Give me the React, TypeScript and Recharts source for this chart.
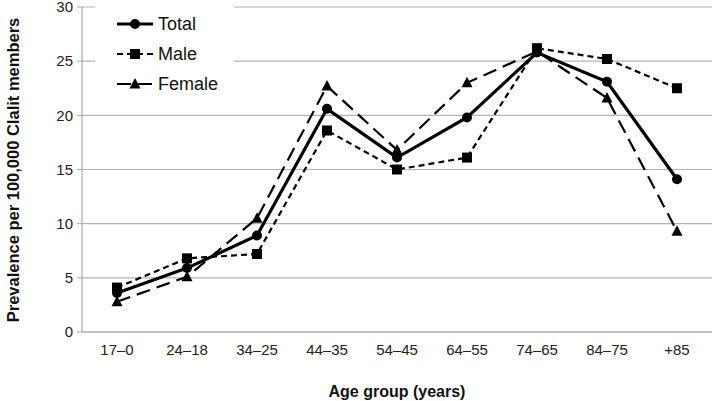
import React from 'react';
import { CartesianGrid, Label, Legend, Line, LineChart, XAxis, YAxis } from 'recharts';

const ageGroups = ['17–0', '24–18', '34–25', '44–35', '54–45', '64–55', '74–65', '84–75', '+85'];
const totalValues = [3.6, 5.9, 8.9, 20.6, 16.1, 19.8, 25.8, 23.1, 14.1];
const maleValues = [4.1, 6.8, 7.2, 18.6, 15.0, 16.1, 26.2, 25.2, 22.5];
const femaleValues = [2.8, 5.1, 10.5, 22.7, 16.8, 23.0, 25.9, 21.6, 9.3];
const yTicks = [0, 5, 10, 15, 20, 25, 30];

const data = ageGroups.map((age, i) => ({
  age,
  Total: totalValues[i],
  Male: maleValues[i],
  Female: femaleValues[i],
}));

const FONT = 'Liberation Sans, Arial, sans-serif';

const SquareDot = (props: any) => {
  const { cx, cy } = props;
  if (cx == null || cy == null) return null;
  return <rect x={cx - 5} y={cy - 5} width={10} height={10} fill='#000' />;
};

const TriangleDot = (props: any) => {
  const { cx, cy } = props;
  if (cx == null || cy == null) return null;
  return <polygon points={`${cx},${cy - 6} ${cx + 5.5},${cy + 4.5} ${cx - 5.5},${cy + 4.5}`} fill='#000' />;
};

const legendRows = [
  { name: 'Total', dash: undefined, width: 3, marker: 'circle' },
  { name: 'Male', dash: '6 4', width: 2.2, marker: 'square' },
  { name: 'Female', dash: '14 7', width: 2.2, marker: 'triangle' },
];

function ChartLegend() {
  return (
    <div style={{ background: '#fff', padding: '4px 16px 4px 22px', fontFamily: FONT }}>
      {legendRows.map((row) => (
        <div key={row.name} style={{ display: 'flex', alignItems: 'center', height: 30 }}>
          <svg width={40} height={14}>
            <line x1={0} y1={7} x2={36} y2={7} stroke='#000' strokeWidth={row.width} strokeDasharray={row.dash} />
            {row.marker === 'circle' && <circle cx={18} cy={7} r={5} fill='#000' />}
            {row.marker === 'square' && <rect x={13} y={2} width={10} height={10} fill='#000' />}
            {row.marker === 'triangle' && <polygon points='18,1 23.5,11.5 12.5,11.5' fill='#000' />}
          </svg>
          <span style={{ fontSize: 18, color: '#111', marginLeft: 1 }}>{row.name}</span>
        </div>
      ))}
    </div>
  );
}

export default function App() {
  return (
    <div style={{ position: 'absolute', left: 0, top: 0 }}>
      <LineChart width={714} height={401} data={data} margin={{ top: 7, right: 2, bottom: 0, left: 0 }}>
        <CartesianGrid vertical={false} stroke='#b4b4b4' strokeWidth={1.2} />
        <XAxis
          dataKey='age'
          height={69}
          padding={{ left: 35, right: 35 }}
          tickLine={false}
          axisLine={{ stroke: '#a8a8a8', strokeWidth: 1.2 }}
          tick={{ fill: '#222', fontSize: 15, fontFamily: FONT }}
          tickMargin={6}
          interval={0}
        >
          <Label
            value='Age group (years)'
            position='insideBottom'
            offset={4}
            style={{ fontWeight: 'bold', fontSize: 16, fill: '#111', fontFamily: FONT }}
          />
        </XAxis>
        <YAxis
          width={82}
          domain={[0, 30]}
          ticks={yTicks}
          interval={0}
          tickSize={5}
          tickLine={{ stroke: '#a8a8a8' }}
          axisLine={{ stroke: '#a8a8a8', strokeWidth: 1.2 }}
          tick={{ fill: '#222', fontSize: 15, fontFamily: FONT }}
          tickMargin={4}
        >
          <Label
            content={() => (
              <text
                x={13}
                y={170}
                transform='rotate(-90 13 170)'
                textAnchor='middle'
                dominantBaseline='central'
                style={{ fontWeight: 'bold', fontSize: 16.5, fill: '#111', fontFamily: FONT }}
              >
                Prevalence per 100,000 Clalit members
              </text>
            )}
          />
        </YAxis>
        <Legend
          layout='horizontal'
          verticalAlign='middle'
          align='center'
          content={<ChartLegend />}
          wrapperStyle={{ left: 95, top: 5, width: 'auto' }}
        />
        <Line
          dataKey='Male'
          stroke='#000'
          strokeWidth={2.2}
          strokeDasharray='6 4'
          dot={<SquareDot />}
          activeDot={false}
          isAnimationActive={false}
        />
        <Line
          dataKey='Female'
          stroke='#000'
          strokeWidth={2.2}
          strokeDasharray='14 7'
          dot={<TriangleDot />}
          activeDot={false}
          isAnimationActive={false}
        />
        <Line
          dataKey='Total'
          stroke='#000'
          strokeWidth={3.2}
          dot={{ r: 5, fill: '#000', stroke: '#000', strokeWidth: 0 }}
          activeDot={false}
          isAnimationActive={false}
        />
      </LineChart>
    </div>
  );
}
